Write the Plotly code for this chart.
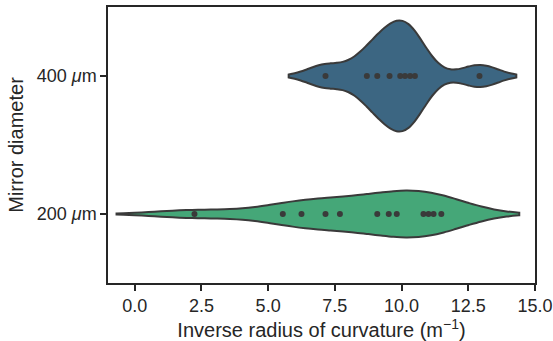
import plotly.graph_objects as go

# Data
categories = ["200 <i>μ</i>m", "400 <i>μ</i>m"]
values_200 = [2.24, 5.55, 6.25, 7.15, 7.69, 9.09, 9.52, 9.82, 10.82, 11.01, 11.20, 11.49]
values_400 = [7.15, 8.70, 9.09, 9.55, 9.95, 10.13, 10.32, 10.50, 12.92]
x_ticks = [0.0, 2.5, 5.0, 7.5, 10.0, 12.5, 15.0]

colors = ["#45a778", "#3c6682"]
edge = "#3a3a3a"
text_col = "#262626"

fig = go.Figure()
for cat, vals, col, w, bw in [
    (categories[1], values_400, colors[1], 0.80, 0.69),
    (categories[0], values_200, colors[0], 0.34, 1.46),
]:
    fig.add_trace(go.Violin(
        x=vals, y=[cat] * len(vals), orientation="h",
        fillcolor=col, opacity=1,
        line=dict(color=edge, width=2),
        points="all", pointpos=0, jitter=0,
        marker=dict(color="#3a3a3a", size=6, line=dict(width=0)),
        width=w, bandwidth=bw, spanmode="soft", scalemode="width",
        box_visible=False, meanline_visible=False, showlegend=False,
        hoverinfo="skip",
    ))

fig.update_layout(
    width=553, height=341,
    margin=dict(l=108, r=18, t=7, b=58),
    paper_bgcolor="white", plot_bgcolor="white",
    violinmode="overlay",
    font=dict(family="Liberation Sans, Arial, sans-serif", size=18, color=text_col),
)
fig.update_xaxes(
    range=[-1.0, 15.0], tickvals=x_ticks, ticktext=[f"{t:.1f}" for t in x_ticks],
    showgrid=False, zeroline=False,
    showline=True, linecolor=text_col, linewidth=1.5, mirror=True,
    ticks="outside", ticklen=6, tickwidth=1.5, tickcolor=text_col,
    title=dict(text="Inverse radius of curvature (m<sup>−1</sup>)", font=dict(size=20), standoff=6),
    automargin=False,
)
fig.update_yaxes(
    type="category", categoryorder="array", categoryarray=categories,
    range=[-0.5, 1.5],
    showgrid=False, zeroline=False,
    showline=True, linecolor=text_col, linewidth=1.5, mirror=True,
    ticks="outside", ticklen=6, tickwidth=1.5, tickcolor=text_col,
    title=dict(text="Mirror diameter", font=dict(size=20), standoff=8),
    automargin=False,
)

fig.write_html(
    "out.html",
    config={"displayModeBar": False},
    post_script="document.body.style.margin='0';document.body.style.overflow='hidden';",
)
